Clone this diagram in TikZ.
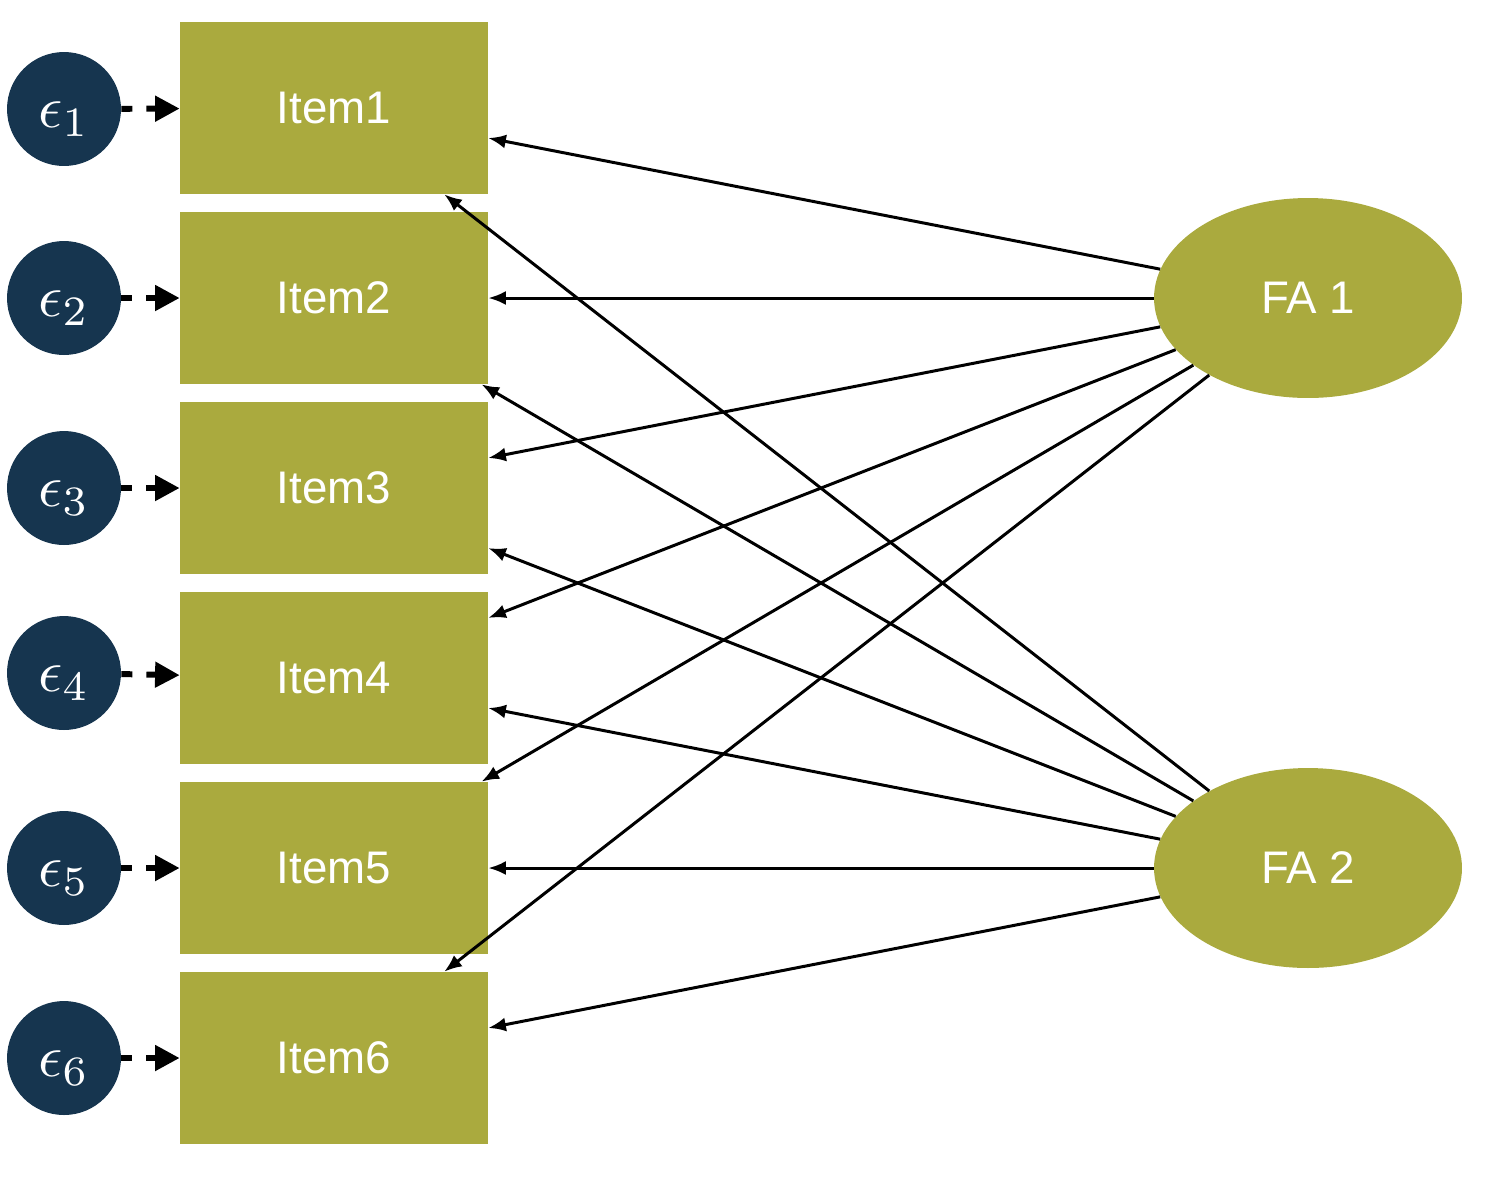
\documentclass[tikz,border=0pt]{standalone}
\usepackage{graphicx}
\usepackage{fontspec}
\setsansfont{Liberation Sans}
\usetikzlibrary{arrows.meta,shapes.geometric}
\definecolor{itemgreen}{HTML}{AAAA3E}
\definecolor{errblue}{HTML}{16354F}
\tikzset{
	itembox/.style={fill=itemgreen, text=white, minimum width=6.16cm, minimum height=3.44cm, inner sep=0pt, font=\sffamily\fontsize{26}{30}\selectfont},
	factor/.style={ellipse, fill=itemgreen, text=white, minimum width=6.16cm, minimum height=4cm, inner sep=0pt, font=\sffamily\fontsize{26}{30}\selectfont},
	errnode/.style={circle, fill=errblue, text=white, minimum size=2.28cm, inner sep=0pt},
	load/.style={-{Latex[length=10pt,width=8pt]}, line width=1.7pt},
	resid/.style={-{Triangle[length=14pt,width=14pt]}, line width=3.4pt, dash pattern=on 6.3pt off 8pt}
}
\begin{document}
\begin{tikzpicture}[x=0.02cm,y=-0.02cm]
		\useasboundingbox (0,0) rectangle (1500,1188);
		\foreach \i/\y in {1/108,2/298,3/488,4/678,5/868,6/1058}
			\node [itembox] (item\i) at (334,\y) {Item\i};
		\foreach \i/\y in {1/109,2/298,3/488,4/673,5/868,6/1058}
			\node [errnode] (err\i) at (64,\y) {\raisebox{-10.5pt}[0pt][0pt]{\scalebox{3.4}{$\epsilon_{\i}$}}};
		\node [factor] (fa1) at (1308,298) {FA 1};
		\node [factor] (fa2) at (1308,868) {FA 2};
		\foreach \i in {1,...,6}
		{
			\draw [load] (fa1) -- (item\i);
			\draw [load] (fa2) -- (item\i);
			\draw [resid] (err\i) -- (item\i);
		}
	\end{tikzpicture}
\end{document}
